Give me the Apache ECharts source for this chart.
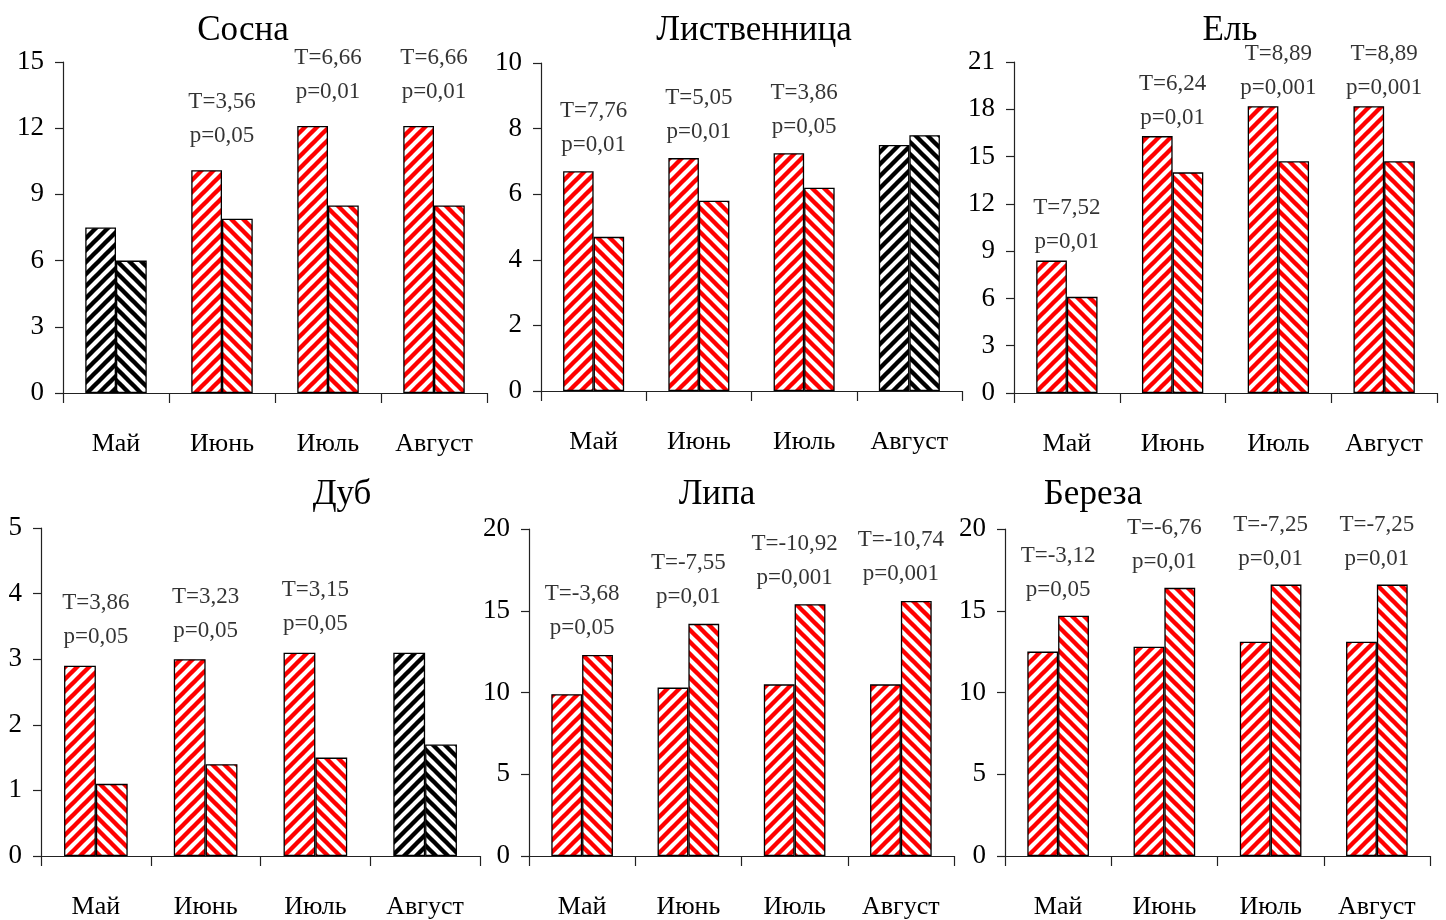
<!DOCTYPE html>
<html>
<head>
<meta charset="utf-8">
<script src="https://cdn.jsdelivr.net/npm/echarts@6/dist/echarts.min.js"></script>
<style>
  html, body { margin: 0; padding: 0; background: #fff; }
  #chart { width: 1446px; height: 920px; }
</style>
</head>
<body>
<div id="chart"></div>
<script>
// ---------- DATA ----------
const months = ['Май', 'Июнь', 'Июль', 'Август'];

const sosnaA = [7.5, 10.1, 12.1, 12.1];
const sosnaB = [6.0, 7.9, 8.5, 8.5];
const sosnaT = ['', 'T=3,56', 'T=6,66', 'T=6,66'];
const sosnaP = ['', 'p=0,05', 'p=0,01', 'p=0,01'];
const sosnaSig = [false, true, true, true];

const listvA = [6.7, 7.1, 7.25, 7.5];
const listvB = [4.7, 5.8, 6.2, 7.8];
const listvT = ['T=7,76', 'T=5,05', 'T=3,86', ''];
const listvP = ['p=0,01', 'p=0,01', 'p=0,05', ''];
const listvSig = [true, true, true, false];

const elA = [8.4, 16.3, 18.2, 18.2];
const elB = [6.1, 14.0, 14.7, 14.7];
const elT = ['T=7,52', 'T=6,24', 'T=8,89', 'T=8,89'];
const elP = ['p=0,01', 'p=0,01', 'p=0,001', 'p=0,001'];
const elSig = [true, true, true, true];

const dubA = [2.9, 3.0, 3.1, 3.1];
const dubB = [1.1, 1.4, 1.5, 1.7];
const dubT = ['T=3,86', 'T=3,23', 'T=3,15', ''];
const dubP = ['p=0,05', 'p=0,05', 'p=0,05', ''];
const dubSig = [true, true, true, false];

const lipaA = [9.9, 10.3, 10.5, 10.5];
const lipaB = [12.3, 14.2, 15.4, 15.6];
const lipaT = ['T=-3,68', 'T=-7,55', 'T=-10,92', 'T=-10,74'];
const lipaP = ['p=0,05', 'p=0,01', 'p=0,001', 'p=0,001'];
const lipaSig = [true, true, true, true];

const berezaA = [12.5, 12.8, 13.1, 13.1];
const berezaB = [14.7, 16.4, 16.6, 16.6];
const berezaT = ['T=-3,12', 'T=-6,76', 'T=-7,25', 'T=-7,25'];
const berezaP = ['p=0,05', 'p=0,01', 'p=0,01', 'p=0,01'];
const berezaSig = [true, true, true, true];

const yMax = [15, 10, 21, 5, 20, 20];
const yInterval = [3, 2, 3, 1, 5, 5];
const titles = ['Сосна', 'Лиственница', 'Ель', 'Дуб', 'Липа', 'Береза'];

// ---------- LAYOUT / STYLE ----------
const FONT = '"Liberation Serif", "Times New Roman", serif';
const RED = '#ff0000';
const BLACK = '#000000';

const panels = [
  { a: sosnaA, b: sosnaB, t: sosnaT, p: sosnaP, sig: sosnaSig,
    grid: { left: 63, top: 62, width: 424, height: 331 }, titleX: 238, titleY: 8, dist: 17 },
  { a: listvA, b: listvB, t: listvT, p: listvP, sig: listvSig,
    grid: { left: 541, top: 63, width: 421, height: 328 }, titleX: 749, titleY: 8, dist: 9 },
  { a: elA, b: elB, t: elT, p: elP, sig: elSig,
    grid: { left: 1014, top: 62, width: 423, height: 331 }, titleX: 1225, titleY: 8, dist: 1 },
  { a: dubA, b: dubB, t: dubT, p: dubP, sig: dubSig,
    grid: { left: 41, top: 528, width: 439, height: 331 }, titleX: 337, titleY: 472, dist: 11 },
  { a: lipaA, b: lipaB, t: lipaT, p: lipaP, sig: lipaSig,
    grid: { left: 529, top: 529, width: 425, height: 330 }, titleX: 712, titleY: 472, dist: 9 },
  { a: berezaA, b: berezaB, t: berezaT, p: berezaP, sig: berezaSig,
    grid: { left: 1005, top: 529, width: 425, height: 328 }, titleX: 1088, titleY: 472, dist: 8 }
];

function makePattern(color, dir) {
  const s = 12;
  const c = document.createElement('canvas');
  c.width = s; c.height = s;
  const g = c.getContext('2d');
  g.fillStyle = '#ffffff';
  g.fillRect(0, 0, s, s);
  g.strokeStyle = color;
  g.lineWidth = 4.4;
  g.lineCap = 'square';
  for (let k = -2; k <= 2; k++) {
    g.beginPath();
    if (dir === 'up') { g.moveTo(k * s - s, 2 * s); g.lineTo(k * s + 2 * s, -s); }
    else { g.moveTo(k * s - s, -s); g.lineTo(k * s + 2 * s, 2 * s); }
    g.stroke();
  }
  return { image: c, repeat: 'repeat' };
}
const patterns = {
  redUp: makePattern(RED, 'up'), redDown: makePattern(RED, 'down'),
  blackUp: makePattern(BLACK, 'up'), blackDown: makePattern(BLACK, 'down')
};

const option = {
  backgroundColor: '#ffffff',
  animation: false,
  title: [], grid: [], xAxis: [], yAxis: [], series: []
};

panels.forEach((pn, idx) => {
  option.title.push({
    text: titles[idx], left: pn.titleX, top: pn.titleY, textAlign: 'center',
    textStyle: { fontFamily: FONT, fontSize: 35, fontWeight: 'normal', color: '#000' }
  });
  option.grid.push(Object.assign({ containLabel: false }, pn.grid));
  option.xAxis.push({
    type: 'category', gridIndex: idx, data: months, boundaryGap: true,
    axisLine: { lineStyle: { color: '#222', width: 1.2 } },
    axisTick: { show: true, length: 10, lineStyle: { color: '#222', width: 1.2 } },
    axisLabel: { fontFamily: FONT, fontSize: 26, color: '#000', margin: 38 },
    splitLine: { show: false }
  });
  option.yAxis.push({
    type: 'value', gridIndex: idx, min: 0, max: yMax[idx], interval: yInterval[idx],
    axisLine: { show: true, lineStyle: { color: '#222', width: 1.2 } },
    axisTick: { show: true, length: 8, lineStyle: { color: '#222', width: 1.2 } },
    axisLabel: { fontFamily: FONT, fontSize: 27, color: '#000', margin: 19 },
    splitLine: { show: false }
  });
  const mkData = (arr, dir) => arr.map((v, i) => ({
    value: v,
    itemStyle: { color: pn.sig[i] ? (dir === 'up' ? patterns.redUp : patterns.redDown)
                                   : (dir === 'up' ? patterns.blackUp : patterns.blackDown) }
  }));
  const barCommon = {
    type: 'bar', xAxisIndex: idx, yAxisIndex: idx,
    barGap: '0%', barCategoryGap: '42%',
    itemStyle: { borderColor: '#000', borderWidth: 1.3 },
    emphasis: { disabled: true }
  };
  option.series.push(Object.assign({}, barCommon, { data: mkData(pn.a, 'up') }));
  option.series.push(Object.assign({}, barCommon, { data: mkData(pn.b, 'down') }));
  const ann = [];
  months.forEach((m, i) => {
    if (pn.t[i]) {
      ann.push({ value: [i, Math.max(pn.a[i], pn.b[i])], label: { formatter: pn.t[i] + '\n' + pn.p[i] } });
    }
  });
  option.series.push({
    type: 'scatter', xAxisIndex: idx, yAxisIndex: idx, data: ann,
    symbolSize: 1, itemStyle: { color: 'transparent' }, z: 5,
    emphasis: { disabled: true },
    label: {
      show: true, position: 'top', distance: pn.dist, align: 'center',
      fontFamily: FONT, fontSize: 23, lineHeight: 34, color: '#000'
    }
  });
});

const chart = echarts.init(document.getElementById('chart'), null, { renderer: 'canvas' });
chart.setOption(option);
</script>
</body>
</html>
